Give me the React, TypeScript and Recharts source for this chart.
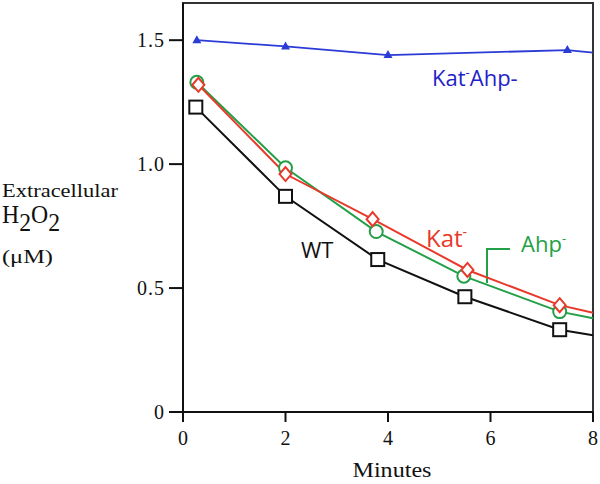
import React from 'react'
import {
  LineChart,
  Line,
  XAxis,
  YAxis,
  ReferenceArea,
  Customized,
} from 'recharts'

// minutes / extracellular H2O2 (µM)
const wtMinutes = [0.25, 2, 3.8, 5.5, 7.35, 8]
const wtValues = [1.23, 0.87, 0.615, 0.465, 0.332, 0.31]

const katMinutes = [0.3, 2, 3.7, 5.55, 7.35, 8]
const katValues = [1.32, 0.96, 0.778, 0.573, 0.431, 0.4]

const ahpMinutes = [0.27, 2, 3.77, 5.48, 7.35, 8]
const ahpValues = [1.33, 0.985, 0.728, 0.548, 0.405, 0.378]

const katAhpMinutes = [0.27, 2, 4, 7.5, 8]
const katAhpValues = [1.5, 1.475, 1.44, 1.46, 1.45]

const xTicks = [0, 2, 4, 6, 8]
const yTicks = [0, 0.5, 1.0, 1.5]

const toRows = (xs: number[], ys: number[]) => xs.map((x, i) => ({ x, y: ys[i] }))

const wtData = toRows(wtMinutes, wtValues)
const katData = toRows(katMinutes, katValues)
const ahpData = toRows(ahpMinutes, ahpValues)
const katAhpData = toRows(katAhpMinutes, katAhpValues)

const BLACK = '#111'
const RED = '#e8392b'
const GREEN = '#23a047'
const BLUE = '#2b3bd6'
const BLUE_TEXT = '#1f22c8'

const SERIF = '"Liberation Serif", "Times New Roman", serif'
const SANS = '"Open Sans", "Liberation Sans", sans-serif'

// last point of each series only continues the line to the frame
const makeDot = (shape: string, n: number) => (p: any) => {
  const { cx, cy, index } = p
  if (index === n - 1 || cx == null) return <g key={index} />
  if (shape === 'square')
    return <rect key={index} x={cx - 6.5} y={cy - 6.5} width={13} height={13} fill="#fff" stroke={BLACK} strokeWidth={2} />
  if (shape === 'circle')
    return <circle key={index} cx={cx} cy={cy} r={6.5} fill="#fff" stroke={GREEN} strokeWidth={2} />
  if (shape === 'diamond')
    return (
      <path key={index} d={`M${cx},${cy - 7}L${cx + 6},${cy}L${cx},${cy + 7}L${cx - 6},${cy}Z`}
        fill="#fff" stroke={RED} strokeWidth={2} />
    )
  return <path key={index} d={`M${cx},${cy - 5}L${cx + 4.5},${cy + 3}L${cx - 4.5},${cy + 3}Z`} fill={BLUE} />
}

const Annotations = () => (
  <g>
    <text x={2} y={197} fontFamily={SERIF} fontSize={18} fill={BLACK} textLength={116} lengthAdjust="spacingAndGlyphs">
      Extracellular
    </text>
    <text x={2} y={223} fontFamily={SERIF} fontSize={25} fill={BLACK} textLength={58} lengthAdjust="spacingAndGlyphs">
      H<tspan dy={8}>2</tspan><tspan dy={-8}>O</tspan><tspan dy={8}>2</tspan>
    </text>
    <text x={2} y={263} fontFamily={SERIF} fontSize={18} fill={BLACK} textLength={51} lengthAdjust="spacingAndGlyphs">
      (μM)
    </text>
    <text x={392} y={477} textAnchor="middle" fontFamily={SERIF} fontSize={21} fill={BLACK} textLength={79} lengthAdjust="spacingAndGlyphs">
      Minutes
    </text>

    <text x={432} y={86} fontFamily={SANS} fontSize={22} fill={BLUE_TEXT}>
      Kat<tspan dy={-9} fontSize={13}>-</tspan><tspan dy={9}>Ahp-</tspan>
    </text>
    <text x={426} y={247} fontFamily={SANS} fontSize={24} fill={RED}>
      Kat<tspan dy={-10} fontSize={14}>-</tspan>
    </text>
    <text x={521} y={252} fontFamily={SANS} fontSize={22} fill={GREEN}>
      Ahp<tspan dy={-9} fontSize={13}>-</tspan>
    </text>
    <path d="M510,249 H487 V283" fill="none" stroke={GREEN} strokeWidth={2} />
    <text x={301} y={258} fontFamily={SANS} fontSize={22} fill={BLACK}>
      WT
    </text>
  </g>
)

export default function App() {
  return (
    <div style={{ width: 600, height: 484, background: '#fff' }}>
      <style>{`body{margin:0}`}</style>
      <LineChart width={600} height={484} margin={{ top: 3, right: 7, bottom: 0, left: 123 }}>
        <XAxis
          type="number"
          dataKey="x"
          domain={[0, 8]}
          ticks={xTicks}
          height={72}
          tickSize={10}
          tickMargin={9}
          stroke={BLACK}
          strokeWidth={2}
          tick={{ fontFamily: SERIF, fontSize: 20, fill: BLACK }}
          allowDuplicatedCategory={false}
        />
        <YAxis
          type="number"
          domain={[0, 1.65]}
          ticks={yTicks}
          width={60}
          tickSize={14}
          tickMargin={4}
          stroke={BLACK}
          strokeWidth={2}
          tickFormatter={(v: number) => (v === 0 ? '0' : v.toFixed(1))}
          tick={{ fontFamily: SERIF, fontSize: 20, fill: BLACK, letterSpacing: 1 }}
        />
        <ReferenceArea x1={0} x2={8} y1={0} y2={1.65} fill="none" stroke="#333" strokeWidth={2} />
        <Line data={wtData} dataKey="y" type="linear" stroke={BLACK} strokeWidth={2}
          dot={makeDot('square', wtData.length)} isAnimationActive={false} />
        <Line data={ahpData} dataKey="y" type="linear" stroke={GREEN} strokeWidth={2}
          dot={makeDot('circle', ahpData.length)} isAnimationActive={false} />
        <Line data={katData} dataKey="y" type="linear" stroke={RED} strokeWidth={2}
          dot={makeDot('diamond', katData.length)} isAnimationActive={false} />
        <Line data={katAhpData} dataKey="y" type="linear" stroke={BLUE} strokeWidth={1.8}
          dot={makeDot('triangle', katAhpData.length)} isAnimationActive={false} />
        <Customized component={Annotations} />
      </LineChart>
    </div>
  )
}
